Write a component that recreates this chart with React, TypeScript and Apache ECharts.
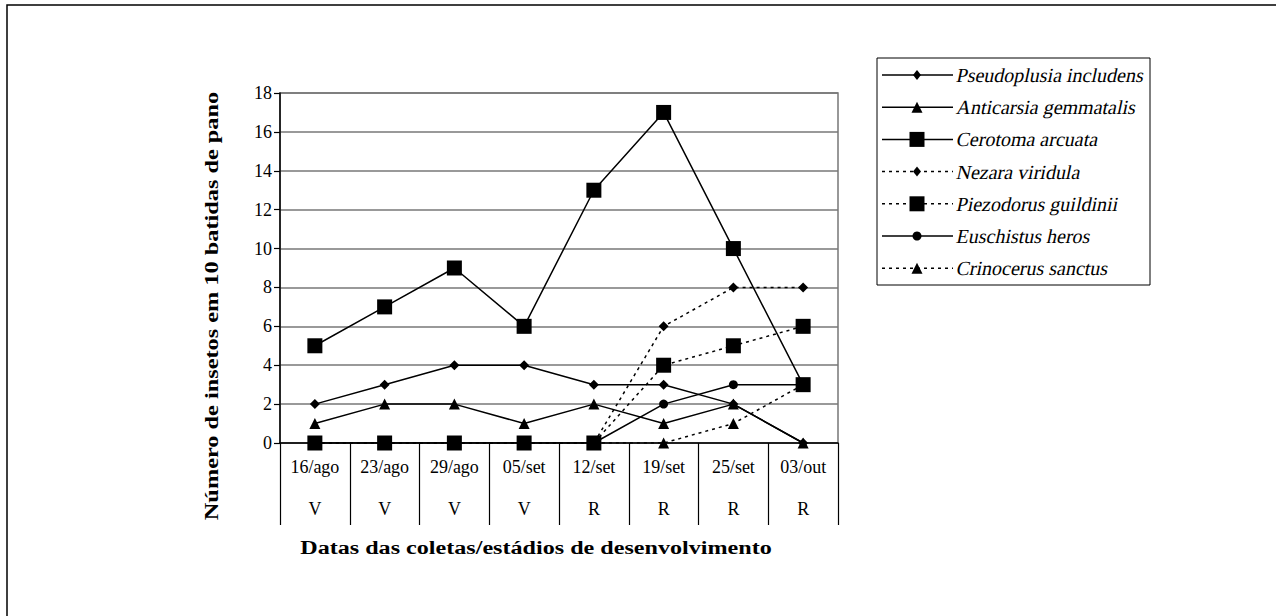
import React, { useEffect, useRef } from "react";
import * as echarts from "echarts";

const categories = ["16/ago", "23/ago", "29/ago", "05/set", "12/set", "19/set", "25/set", "03/out"];
const stages = ["V", "V", "V", "V", "R", "R", "R", "R"];
const yTicks = { min: 0, max: 18, interval: 2 };

const pseudoplusia = [2, 3, 4, 4, 3, 3, 2, 0];
const anticarsia = [1, 2, 2, 1, 2, 1, 2, 0];
const cerotoma = [5, 7, 9, 6, 13, 17, 10, 3];
const nezara = [0, 0, 0, 0, 0, 6, 8, 8];
const piezodorus = [0, 0, 0, 0, 0, 4, 5, 6];
const euschistus = [0, 0, 0, 0, 0, 2, 3, 3];
const crinocerus = [0, 0, 0, 0, 0, 0, 1, 3];

const seriesDefs = [
  { name: "Pseudoplusia includens", data: pseudoplusia, symbol: "diamond", size: 10, dotted: false },
  { name: "Anticarsia gemmatalis", data: anticarsia, symbol: "triangle", size: 11, dotted: false },
  { name: "Cerotoma arcuata", data: cerotoma, symbol: "rect", size: 15, dotted: false },
  { name: "Nezara viridula", data: nezara, symbol: "diamond", size: 10, dotted: true },
  { name: "Piezodorus guildinii", data: piezodorus, symbol: "rect", size: 15, dotted: true },
  { name: "Euschistus heros", data: euschistus, symbol: "circle", size: 9, dotted: false },
  { name: "Crinocerus sanctus", data: crinocerus, symbol: "triangle", size: 11, dotted: true },
];

const FONT = "'Liberation Serif', 'Times New Roman', serif";
const DASH = [3, 4];

function legendSymbol(symbol: string, cx: number, cy: number, size: number) {
  const h = size / 2;
  const style = { fill: "#000" };
  if (symbol === "rect") return { type: "rect", shape: { x: cx - h, y: cy - h, width: size, height: size }, style };
  if (symbol === "circle") return { type: "circle", shape: { cx, cy, r: h }, style };
  if (symbol === "diamond")
    return { type: "polygon", shape: { points: [[cx, cy - h], [cx + h * 0.8, cy], [cx, cy + h], [cx - h * 0.8, cy]] }, style };
  return { type: "polygon", shape: { points: [[cx, cy - h], [cx + h, cy + h], [cx - h, cy + h]] }, style };
}

function buildLegend() {
  const left = 877;
  const top = 58;
  const boxW = 273;
  const boxH = 227;
  const rowTop = 75;
  const rowStep = 32.2;
  const children: any[] = [
    { type: "rect", shape: { x: left, y: top, width: boxW, height: boxH }, style: { fill: "#fff", stroke: "#000", lineWidth: 1 } },
  ];
  seriesDefs.forEach((s, i) => {
    const y = rowTop + i * rowStep;
    children.push({
      type: "line",
      shape: { x1: left + 5, y1: y, x2: left + 76, y2: y },
      style: { stroke: "#000", lineWidth: 1.5, lineDash: s.dotted ? DASH : null },
    });
    children.push(legendSymbol(s.symbol, left + 40, y, s.size));
    children.push({
      type: "text",
      x: left + 80,
      y,
      skewX: -0.21,
      style: {
        text: s.name,
        font: "20px 'Liberation Serif'",
        fill: "#000",
        textAlign: "left",
        textVerticalAlign: "middle",
      },
    });
  });
  return { type: "group", children };
}

export default function App() {
  const ref = useRef<HTMLDivElement>(null);
  useEffect(() => {
    if (!ref.current) return;
    const chart = echarts.init(ref.current, null, { renderer: "svg" });
    const option = {
      animation: false,
      backgroundColor: "#fff",
      textStyle: { fontFamily: FONT, color: "#000" },
      grid: {
        left: 280,
        top: 93,
        width: 558,
        height: 350,
        show: true,
        borderColor: "#777",
        borderWidth: 1.5,
      },
      xAxis: {
        type: "category",
        data: categories,
        boundaryGap: true,
        axisLine: { lineStyle: { color: "#000", width: 1.5 } },
        axisTick: { show: true, interval: 0, length: 82, lineStyle: { color: "#000", width: 1.2 } },
        axisLabel: {
          interval: 0,
          margin: 3,
          fontFamily: FONT,
          fontSize: 18,
          color: "#000",
          lineHeight: 42,
          formatter: (v: string, i: number) => v + "\n" + stages[i],
        },
      },
      yAxis: {
        type: "value",
        min: yTicks.min,
        max: yTicks.max,
        interval: yTicks.interval,
        axisLine: { show: true, lineStyle: { color: "#000", width: 1.5 } },
        axisTick: { show: true, inside: false, length: 6, lineStyle: { color: "#000", width: 1.2 } },
        axisLabel: { fontFamily: FONT, fontSize: 18, color: "#000", margin: 8 },
        splitLine: { lineStyle: { color: "#777", width: 1.5 } },
      },
      graphic: [
        {
          type: "rect",
          shape: { x: 7, y: 5, width: 1400, height: 800 },
          style: { fill: "none", stroke: "#000", lineWidth: 1.5 },
          silent: true,
        },
        {
          type: "text",
          x: 212,
          y: 306,
          rotation: Math.PI / 2,
          scaleX: 1.28,
          style: {
            text: "Número de insetos em 10 batidas de pano",
            font: "bold 19px 'Liberation Serif'",
            fill: "#000",
            textAlign: "center",
            textVerticalAlign: "middle",
          },
        },
        {
          type: "text",
          x: 536,
          y: 548,
          scaleX: 1.27,
          style: {
            text: "Datas das coletas/estádios de desenvolvimento",
            font: "bold 19px 'Liberation Serif'",
            fill: "#000",
            textAlign: "center",
            textVerticalAlign: "middle",
          },
        },
        buildLegend(),
      ],
      series: seriesDefs.map((s) => ({
        name: s.name,
        type: "line",
        data: s.data,
        symbol: s.symbol,
        symbolSize: s.size,
        showSymbol: true,
        itemStyle: { color: "#000" },
        lineStyle: { color: "#000", width: 1.5, type: s.dotted ? DASH : "solid" },
      })),
    };
    chart.setOption(option);
    return () => chart.dispose();
  }, []);
  return (
    <div
      ref={ref}
      style={{ position: "absolute", left: 0, top: 0, width: 1276, height: 616 }}
    />
  );
}
